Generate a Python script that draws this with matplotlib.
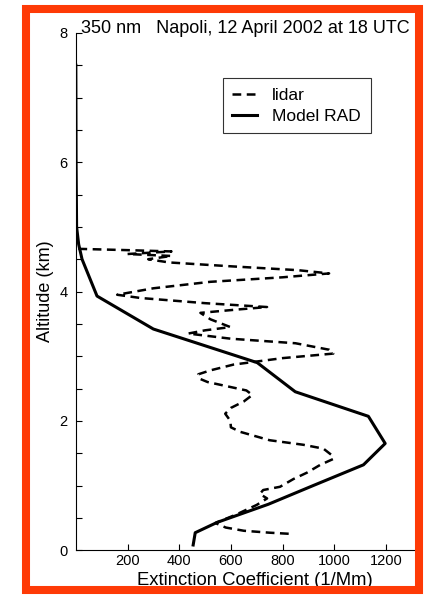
import matplotlib
matplotlib.use("Agg")
import matplotlib.pyplot as plt
from matplotlib.patches import Rectangle

# === data (altitude in km, extinction in 1/Mm) ===
model_alt = [7.5, 6.0, 5.0, 4.73, 4.5, 3.93, 3.42, 2.9, 2.45, 2.07, 1.65, 1.32, 1.0, 0.71, 0.43, 0.27, 0.08]
model_ext = [0, 1, 3, 11, 24, 82, 300, 702, 849, 1132, 1197, 1113, 919, 745, 547, 462, 454]

lidar_alt = [4.66, 4.64, 4.62, 4.58, 4.55, 4.50, 4.45, 4.39, 4.33, 4.28, 4.22, 4.15, 4.05, 3.95,
             3.90, 3.82, 3.76, 3.72, 3.67, 3.57, 3.45, 3.40, 3.35, 3.27, 3.20, 3.10, 3.04,
             2.97, 2.87, 2.78, 2.72, 2.65, 2.60, 2.47, 2.40, 2.30, 2.20, 2.11, 2.00, 1.90,
             1.83, 1.70, 1.63, 1.57, 1.47, 1.41, 1.32, 1.20, 1.10, 0.98, 0.93, 0.87, 0.80,
             0.70, 0.55, 0.42, 0.35, 0.30, 0.27, 0.25]
lidar_ext = [10, 200, 370, 200, 370, 280, 360, 600, 860, 980, 800, 520, 300, 160,
             250, 500, 740, 620, 482, 521, 598, 500, 435, 600, 850, 980, 996,
             800, 610, 520, 474, 480, 510, 660, 683, 650, 600, 578, 598, 600,
             636, 750, 880, 958, 990, 996, 946, 895, 842, 790, 725, 712, 740,
             700, 620, 540, 580, 650, 750, 840]

xticks = [200, 400, 600, 800, 1000, 1200]
yticks = [0, 2, 4, 6, 8]

plt.rcParams['font.family'] = ['Liberation Sans', 'DejaVu Sans']

fig = plt.figure(figsize=(4.26, 5.98), dpi=100)
ax = fig.add_axes([0.178, 0.080, 0.799, 0.865])

ax.plot(lidar_ext, lidar_alt, color='black', lw=1.8, linestyle=(0, (3.5, 2.2)), label='lidar')
ax.plot(model_ext, model_alt, color='black', lw=2.2, label='Model RAD')

ax.set_xlim(0, 1317)
ax.set_ylim(0, 8)
ax.set_xticks(xticks)
ax.set_yticks(yticks)
ax.set_yticks([v / 2 for v in range(17)], minor=True)
ax.tick_params(direction='in', length=4, width=0.8, labelsize=10.5)
ax.tick_params(axis='y', pad=6)
ax.tick_params(axis='x', pad=3)
ax.tick_params(which='minor', direction='in', length=4, width=0.8)
for s in ['top', 'right']:
    ax.spines[s].set_visible(False)
for s in ['left', 'bottom']:
    ax.spines[s].set_linewidth(0.8)

ax.set_xlabel('Extinction Coefficient (1/Mm)', fontsize=13.3)
ax.xaxis.set_label_coords(0.527, -0.043)
ax.set_ylabel('Altitude (km)', fontsize=13, labelpad=4)
ax.text(0.015, 1.0, '350 nm   Napoli, 12 April 2002 at 18 UTC', transform=ax.transAxes,
        fontsize=13, va='baseline', ha='left')

leg = ax.legend(loc='upper left', bbox_to_anchor=(0.432, 0.913), fontsize=12.5,
                frameon=True, fancybox=False, edgecolor='black', handlelength=1.4,
                handletextpad=0.9, borderpad=0.55, labelspacing=0.35, borderaxespad=0)
leg.get_frame().set_linewidth(0.8)

# red frame around everything
fig.patches.append(Rectangle((0.061, 0.0142), 0.9226, 0.9708, transform=fig.transFigure,
                             fill=False, edgecolor='#fe3a06', lw=5.8, joinstyle='miter'))

fig.savefig('out.png', dpi=100)
